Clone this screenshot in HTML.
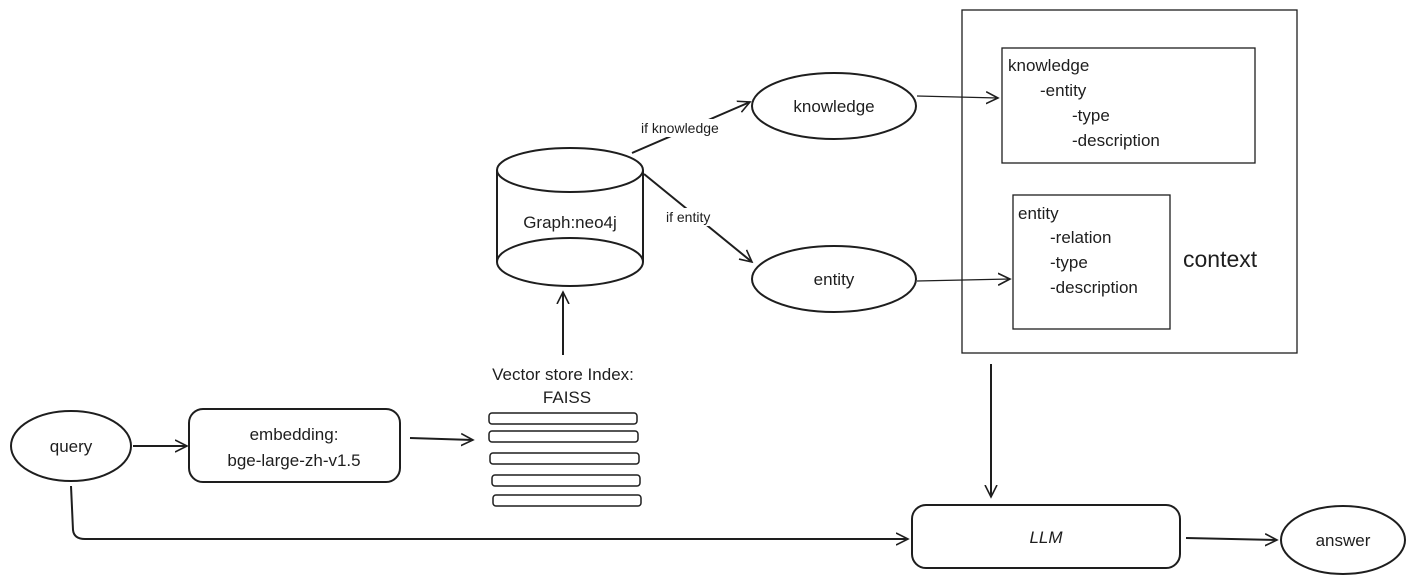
<!DOCTYPE html>
<html><head><style>body{margin:0;background:#fff}svg{display:block}text{font-family:"Liberation Sans",sans-serif;fill:#1e1e1e}</style></head>
<body>
<svg width="1415" height="584" viewBox="0 0 1415 584" xmlns="http://www.w3.org/2000/svg">
<defs><marker id="a" markerWidth="14" markerHeight="14" refX="12" refY="7" orient="auto" markerUnits="userSpaceOnUse"><path d="M0,1 L12,7 L0,13" fill="none" stroke="#1e1e1e" stroke-width="1.6"/></marker></defs>
<g fill="none" stroke="#1e1e1e" stroke-width="2">
<!-- context -->
<rect x="962" y="10" width="335" height="343" stroke-width="1.3"/>
<rect x="1002" y="48" width="253" height="115" stroke-width="1.3"/>
<rect x="1013" y="195" width="157" height="134" stroke-width="1.3"/>
<!-- ellipses -->
<ellipse cx="834" cy="106" rx="82" ry="33"/>
<ellipse cx="834" cy="279" rx="82" ry="33"/>
<ellipse cx="71" cy="446" rx="60" ry="35"/>
<ellipse cx="1343" cy="540" rx="62" ry="34"/>
<rect x="189" y="409" width="211" height="73" rx="14"/>
<rect x="912" y="505" width="268" height="63" rx="14"/>
<!-- cylinder -->
<ellipse cx="570" cy="170" rx="73" ry="22"/>
<ellipse cx="570" cy="262" rx="73" ry="24"/>
<line x1="497" y1="170" x2="497" y2="262"/><line x1="643" y1="170" x2="643" y2="262"/>
<!-- bars -->
<g stroke-width="1.5">
<rect x="489" y="413" width="148" height="11" rx="3"/>
<rect x="489" y="431" width="149" height="11" rx="3"/>
<rect x="490" y="453" width="149" height="11" rx="3"/>
<rect x="492" y="475" width="148" height="11" rx="3"/>
<rect x="493" y="495" width="148" height="11" rx="3"/>
</g>
<!-- arrows -->
<line x1="632" y1="153" x2="750" y2="102" marker-end="url(#a)"/>
<line x1="644" y1="174" x2="752" y2="262" marker-end="url(#a)"/>
<line x1="563" y1="355" x2="563" y2="292" marker-end="url(#a)"/>
<line x1="133" y1="446" x2="187" y2="446" marker-end="url(#a)"/>
<line x1="410" y1="438" x2="473" y2="440" marker-end="url(#a)"/>
<line x1="917" y1="96" x2="998" y2="98" stroke-width="1.2" marker-end="url(#a)"/>
<line x1="917" y1="281" x2="1010" y2="279" stroke-width="1.2" marker-end="url(#a)"/>
<line x1="991" y1="364" x2="991" y2="497" marker-end="url(#a)"/>
<path d="M71,486 L73,530 Q74,539 85,539 L908,539" marker-end="url(#a)"/>
<line x1="1186" y1="538" x2="1277" y2="540" marker-end="url(#a)"/>
</g>
<rect x="638" y="119" width="100" height="18" fill="#fff"/>
<rect x="664" y="208" width="70" height="18" fill="#fff"/>
<g font-size="14">
<text x="641" y="133">if knowledge</text>
<text x="666" y="222">if entity</text>
</g>
<g font-size="17">
<text x="834" y="112" text-anchor="middle">knowledge</text>
<text x="834" y="285" text-anchor="middle">entity</text>
<text x="71" y="452" text-anchor="middle">query</text>
<text x="1343" y="546" text-anchor="middle">answer</text>
<text x="1046" y="543" text-anchor="middle" font-style="italic">LLM</text>
<text x="294" y="440" text-anchor="middle">embedding:</text>
<text x="294" y="466" text-anchor="middle">bge-large-zh-v1.5</text>
<text x="570" y="228" text-anchor="middle">Graph:neo4j</text>
<text x="563" y="380" text-anchor="middle">Vector store Index:</text>
<text x="567" y="403" text-anchor="middle">FAISS</text>
<text x="1008" y="71">knowledge</text>
<text x="1040" y="96">-entity</text>
<text x="1072" y="121">-type</text>
<text x="1072" y="146">-description</text>
<text x="1018" y="219">entity</text>
<text x="1050" y="243">-relation</text>
<text x="1050" y="268">-type</text>
<text x="1050" y="293">-description</text>
<text x="1183" y="267" font-size="23">context</text>
</g>
</svg>
</body></html>
